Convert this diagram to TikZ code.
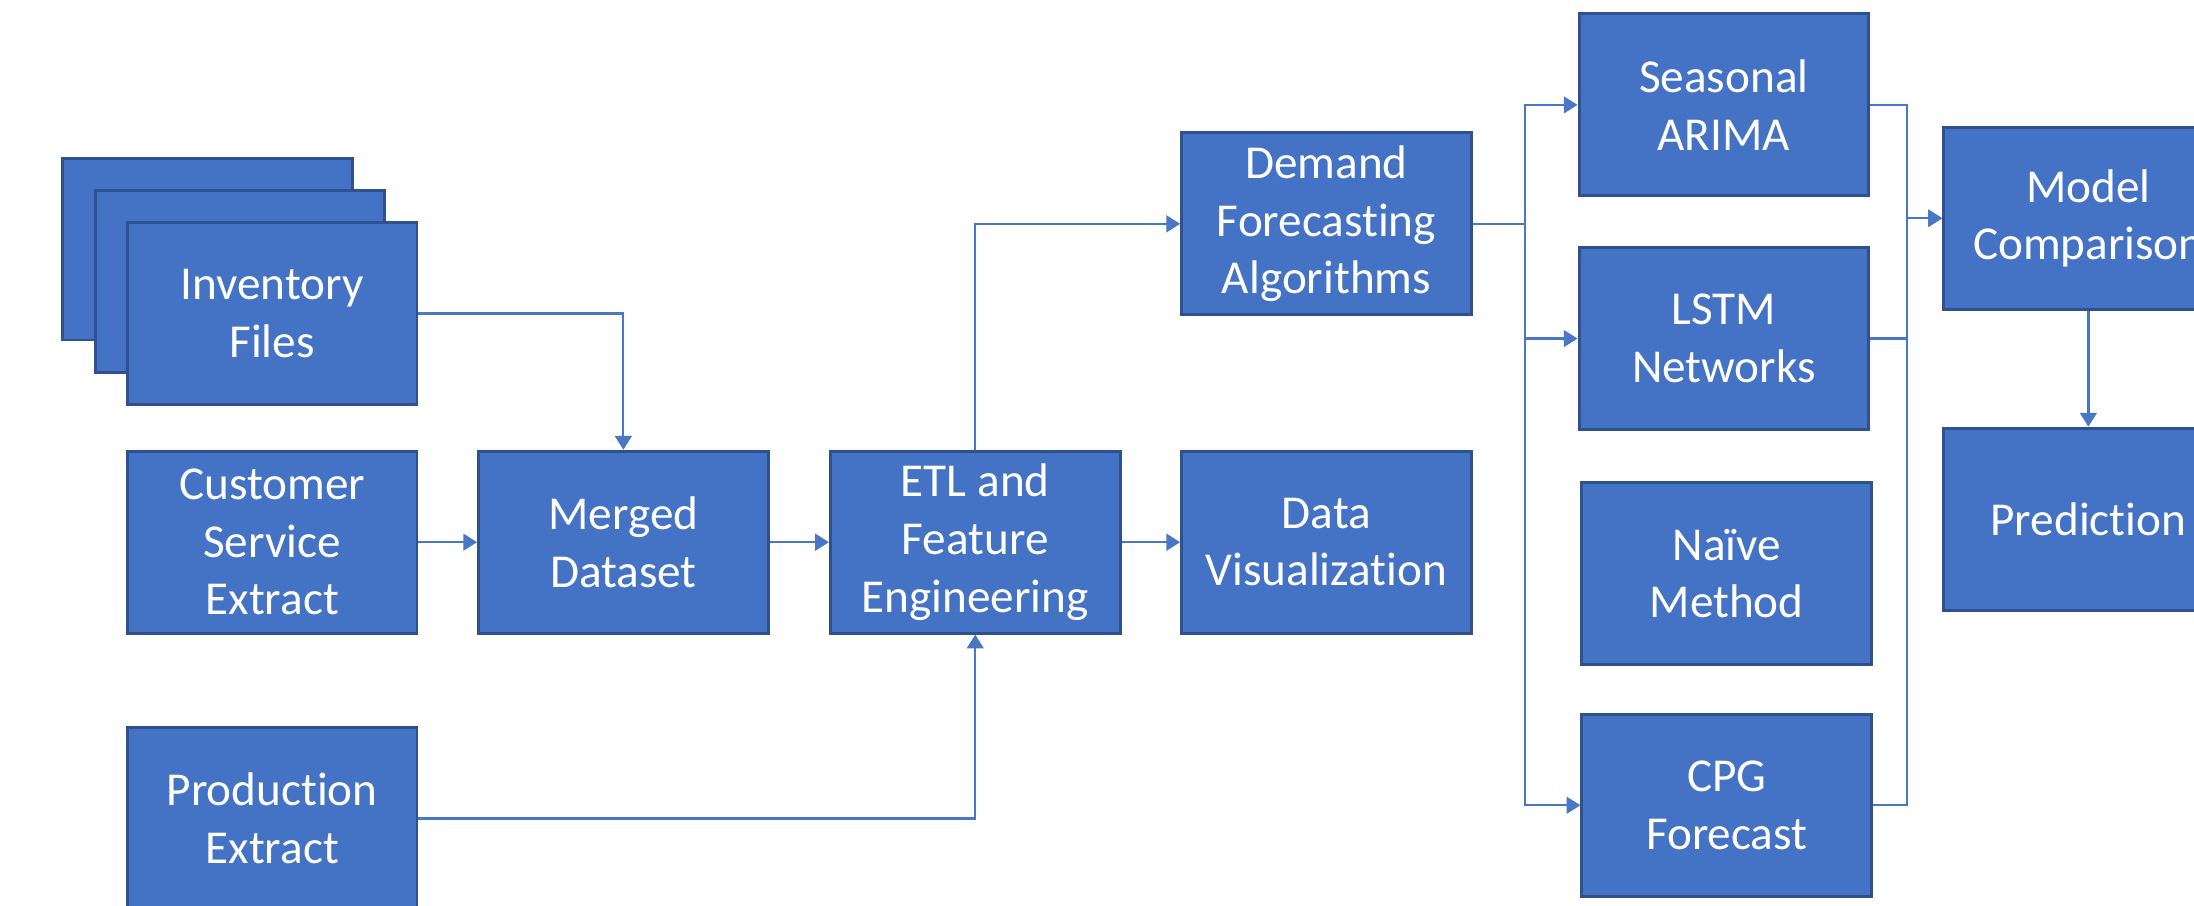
\documentclass[tikz,border=0pt]{standalone}
\usepackage{fontspec}
\setmainfont{Carlito}[Ligatures=NoCommon]
\usetikzlibrary{arrows.meta}
\definecolor{boxfill}{HTML}{4472C4}
\definecolor{boxline}{HTML}{2F528F}
\definecolor{linkblue}{HTML}{4A76C6}
\begin{document}
\begin{tikzpicture}[
    block/.style={draw=boxline, line width=0.6pt, fill=boxfill, text=white,
        minimum width=2.07cm, minimum height=1.30cm, inner sep=0pt, align=center,
        font=\fontsize{9.6}{11.7}\selectfont},
    conn/.style={draw=linkblue, line width=0.45pt, -{Triangle[length=2.8pt, width=3.4pt]}}
  ]
    % Page frame
    \useasboundingbox (0,0) rectangle (15.68,6.475);
    \clip (0,0) rectangle (15.68,6.475);
    % Stacked inventory files
    \node[block] (back1) at (1.485,4.695) {};
    \node[block] (back2) at (1.715,4.465) {};
    \node[block] (inv) at (1.945,4.235) {Inventory\\Files};
    % Sources
    \node[block] (cust) at (1.945,2.60) {Customer\\Service\\Extract};
    \node[block] (prod) at (1.945,0.625) {Production\\Extract};
    % Processing
    \node[block] (merged) at (4.455,2.60) {Merged\\Dataset};
    \node[block] (etl) at (6.97,2.60) {ETL and\\Feature\\Engineering};
    \node[block] (dataviz) at (9.48,2.60) {Data\\Visualization};
    \node[block] (demand) at (9.48,4.875) {Demand\\Forecasting\\Algorithms};
    % Models
    \node[block] (seasonal) at (12.32,5.725) {Seasonal\\ARIMA};
    \node[block] (lstm) at (12.32,4.055) {LSTM\\Networks};
    \node[block] (naive) at (12.34,2.375) {Naïve\\Method};
    \node[block] (cpg) at (12.34,0.72) {CPG\\Forecast};
    % Results
    \node[block] (model) at (14.925,4.915) {Model\\Comparison};
    \node[block] (pred) at (14.925,2.765) {Prediction};
    % Branch points
    \coordinate (split) at (10.90,4.875);
    \coordinate (join) at (13.63,4.915);
    % Connectors
    \draw[conn] (inv.east) -| (merged.north);
    \draw[conn] (cust) -- (merged);
    \draw[conn] (merged) -- (etl);
    \draw[conn] (prod.east) -| (etl.south);
    \draw[conn] (etl.north) |- (demand.west);
    \draw[conn] (etl) -- (dataviz);
    \draw[conn] (demand.east) -- (split) |- (seasonal.west);
    \draw[conn] (demand.east) -- (split) |- (lstm.west);
    \draw[conn] (demand.east) -- (split) |- (cpg.west);
    \draw[conn] (seasonal.east) -| (join) -- (model.west);
    \draw[conn] (lstm.east) -| (join) -- (model.west);
    \draw[conn] (cpg.east) -| (join) -- (model.west);
    \draw[conn] (model) -- (pred);
\end{tikzpicture}
\end{document}
